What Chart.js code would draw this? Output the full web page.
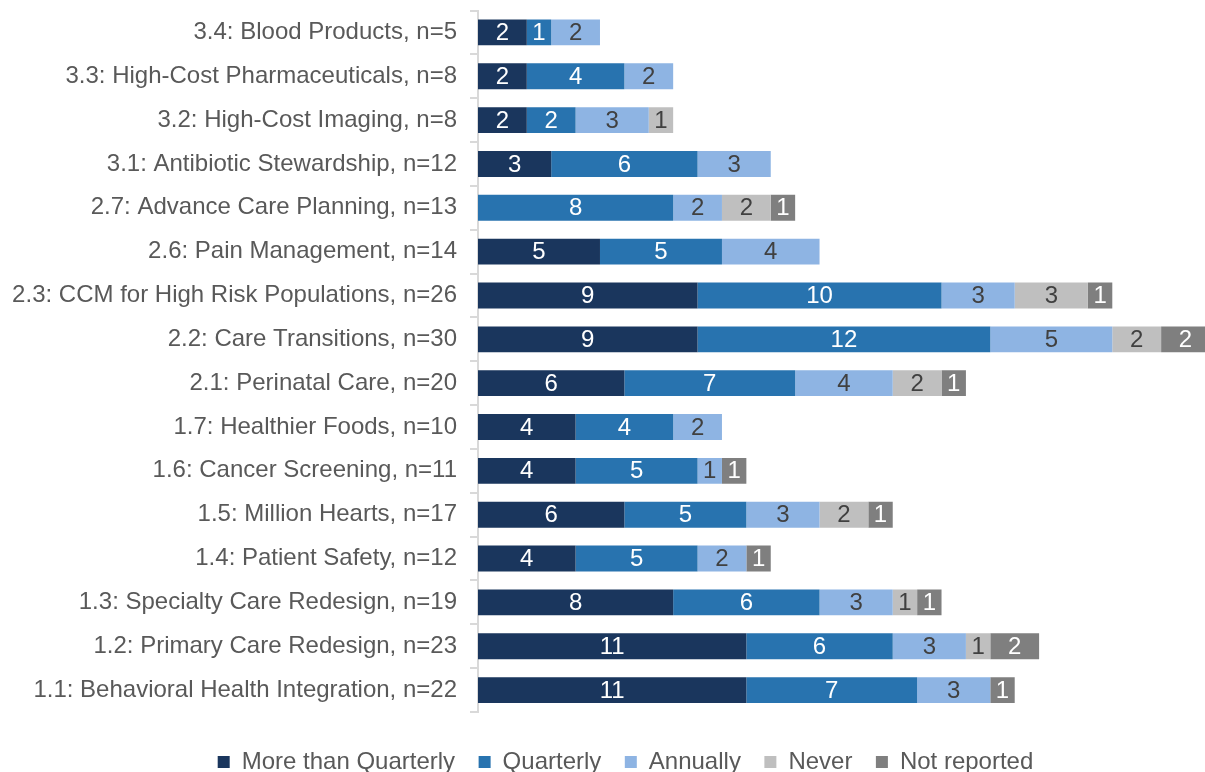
<!DOCTYPE html>
<html>
<head>
<meta charset="utf-8">
<script src="https://cdn.jsdelivr.net/npm/chart.js@4/dist/chart.umd.min.js"></script>
<style>
  html, body { margin: 0; padding: 0; background: #ffffff; }
  #wrap { width: 1205px; height: 772px; position: relative; }
</style>
</head>
<body>
<div id="wrap"><canvas id="c"></canvas></div>
<script>
const categories = [
  '3.4: Blood Products, n=5',
  '3.3: High-Cost Pharmaceuticals, n=8',
  '3.2: High-Cost Imaging, n=8',
  '3.1: Antibiotic Stewardship, n=12',
  '2.7: Advance Care Planning, n=13',
  '2.6: Pain Management, n=14',
  '2.3: CCM for High Risk Populations, n=26',
  '2.2: Care Transitions, n=30',
  '2.1: Perinatal Care, n=20',
  '1.7: Healthier Foods, n=10',
  '1.6: Cancer Screening, n=11',
  '1.5: Million Hearts, n=17',
  '1.4: Patient Safety, n=12',
  '1.3: Specialty Care Redesign, n=19',
  '1.2: Primary Care Redesign, n=23',
  '1.1: Behavioral Health Integration, n=22'
];
const seriesNames = ['More than Quarterly', 'Quarterly', 'Annually', 'Never', 'Not reported'];
const moreThanQuarterly = [2, 2, 2, 3, 0, 5, 9, 9, 6, 4, 4, 6, 4, 8, 11, 11];
const quarterly         = [1, 4, 2, 6, 8, 5, 10, 12, 7, 4, 5, 5, 5, 6, 6, 7];
const annually          = [2, 2, 3, 3, 2, 4, 3, 5, 4, 2, 1, 3, 2, 3, 3, 3];
const never             = [0, 0, 1, 0, 2, 0, 3, 2, 2, 0, 0, 2, 0, 1, 1, 0];
const notReported       = [0, 0, 0, 0, 1, 0, 1, 2, 1, 0, 1, 1, 1, 1, 2, 1];

const seriesValues = [moreThanQuarterly, quarterly, annually, never, notReported];
const barColors = ['#1A365D', '#2873AF', '#8EB4E3', '#BFBFBF', '#7F7F7F'];
const valueColors = ['#FFFFFF', '#FFFFFF', '#404040', '#404040', '#FFFFFF'];
const FONT = '"Liberation Sans", Arial, sans-serif';

const valueLabels = {
  id: 'valueLabels',
  afterDatasetsDraw(chart) {
    const ctx = chart.ctx;
    chart.data.datasets.forEach((ds, i) => {
      const meta = chart.getDatasetMeta(i);
      if (meta.hidden) return;
      meta.data.forEach((el, j) => {
        const v = ds.data[j];
        if (!v) return;
        const p = el.getProps(['x', 'y', 'base'], true);
        ctx.save();
        ctx.font = '24px ' + FONT;
        ctx.fillStyle = valueColors[i];
        ctx.textAlign = 'center';
        ctx.textBaseline = 'middle';
        ctx.fillText(String(v), (p.x + p.base) / 2, p.y + 1);
        ctx.restore();
      });
    });
  }
};

// shift the legend row slightly right, as in the reference
const legendShift = {
  id: 'legendShift',
  afterLayout(chart) {
    if (chart.legend) {
      chart.legend.left += 23;
      chart.legend.right += 23;
    }
  }
};

new Chart(document.getElementById('c'), {
  type: 'bar',
  data: {
    labels: categories,
    datasets: seriesNames.map((name, i) => ({
      label: name,
      data: seriesValues[i],
      backgroundColor: barColors[i],
      borderWidth: 0,
      barPercentage: 0.59,
      categoryPercentage: 1.0
    }))
  },
  options: {
    indexAxis: 'y',
    responsive: true,
    maintainAspectRatio: false,
    animation: false,
    devicePixelRatio: 1,
    layout: { padding: { left: 0, top: 10.5, right: 0, bottom: 0 } },
    scales: {
      x: {
        stacked: true,
        min: 0,
        max: 29.8,
        display: true,
        grid: { display: false, drawTicks: false },
        border: { display: false },
        ticks: { display: false },
        afterFit(s) { s.height = 14.5; s.paddingLeft = 0; s.paddingRight = 0; }
      },
      y: {
        stacked: true,
        grid: {
          display: true,
          offset: true,
          drawOnChartArea: false,
          drawTicks: true,
          tickLength: 8,
          color: '#D9D9D9',
          lineWidth: 2
        },
        border: { display: true, color: '#D9D9D9', width: 2 },
        ticks: {
          color: '#595959',
          padding: 13,
          font: { family: FONT, size: 24 }
        },
        afterFit(s) { s.width = 478; s.paddingTop = 0; s.paddingBottom = 0; }
      }
    },
    plugins: {
      legend: {
        position: 'bottom',
        maxHeight: 45.5,
        labels: {
          boxWidth: 12,
          boxHeight: 12,
          padding: 23.5,
          color: '#595959',
          font: { family: FONT, size: 24 }
        }
      },
      tooltip: { enabled: false }
    }
  },
  plugins: [valueLabels, legendShift]
});
</script>
</body>
</html>
